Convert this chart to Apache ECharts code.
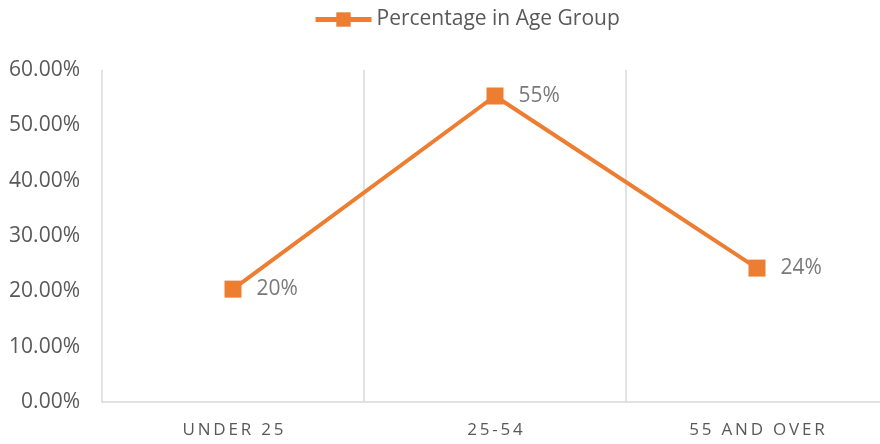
<!DOCTYPE html>
<html>
<head>
<meta charset="utf-8">
<script src="https://cdn.jsdelivr.net/npm/echarts@6/dist/echarts.min.js"></script>
<style>
  html, body { margin: 0; padding: 0; background: #fff; }
  #chart { width: 880px; height: 444px; }
</style>
</head>
<body>
<div id="chart"></div>
<script>
var categories = ['UNDER 25', '25-54', '55 AND OVER'];
var shares = [0.204, 0.553, 0.242];
var yTicks = [0, 0.1, 0.2, 0.3, 0.4, 0.5, 0.6];

var chart = echarts.init(document.getElementById('chart'));
chart.setOption({
    textStyle: {
        fontFamily: 'Open Sans'
    },
    legend: {
        top: 4,
        left: 308,
        itemWidth: 56,
        itemHeight: 18,
        itemGap: 4,
        lineStyle: { width: 5 },
        textStyle: {
            color: '#595959',
            fontSize: 21
        },
        data: ['Percentage in Age Group']
    },
    grid: {
        left: 102,
        width: 786,
        top: 70,
        bottom: 42,
        outerBoundsMode: 'none'
    },
    xAxis: {
        type: 'category',
        data: categories,
        boundaryGap: true,
        axisLine: {
            lineStyle: { color: '#d9d9d9', width: 1.5 }
        },
        axisTick: { show: false },
        splitLine: {
            show: true,
            lineStyle: { color: '#d9d9d9', width: 1.5 }
        },
        axisLabel: {
            color: '#595959',
            fontSize: 17,
            margin: 20,
            formatter: function (v) {
                return v.split('').join('\u2009');
            }
        }
    },
    yAxis: {
        type: 'value',
        min: yTicks[0],
        max: yTicks[yTicks.length - 1],
        interval: 0.1,
        axisLine: { show: false },
        axisTick: { show: false },
        splitLine: { show: false },
        axisLabel: {
            color: '#595959',
            fontSize: 21,
            margin: 22,
            formatter: function (v) {
                return (v * 100).toFixed(2) + '%';
            }
        }
    },
    series: [
        {
            name: 'Percentage in Age Group',
            type: 'line',
            data: shares,
            symbol: 'rect',
            symbolSize: 17,
            itemStyle: { color: '#ed7d31' },
            lineStyle: { color: '#ed7d31', width: 4 },
            label: {
                show: true,
                position: 'right',
                distance: 15,
                color: '#7a7a7a',
                fontSize: 21,
                formatter: function (p) {
                    return Math.round(p.value * 100) + '%';
                }
            }
        }
    ]
});
</script>
</body>
</html>
